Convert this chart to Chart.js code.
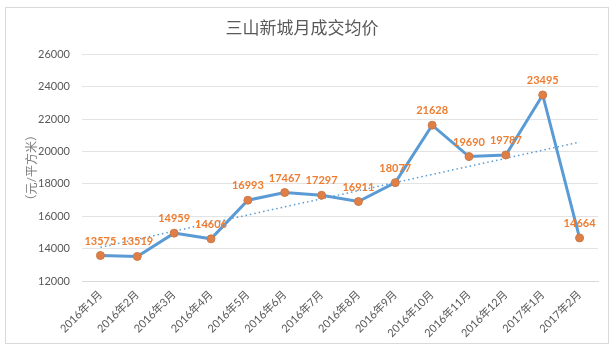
<!DOCTYPE html>
<html>
<head>
<meta charset="utf-8">
<script src="https://cdn.jsdelivr.net/npm/chart.js@4"></script>
<style>
  html, body { margin: 0; padding: 0; background: #fff; }
  #box {
    position: absolute; left: 5px; top: 7px;
    width: 604px; height: 337px;
    border: 1px solid #d9d9d9; box-sizing: border-box;
  }
  #chart { display: block; }
</style>
</head>
<body>
<div id="box"><canvas id="chart" width="602" height="335"></canvas></div>
<script>
const months = ["2016年1月","2016年2月","2016年3月","2016年4月","2016年5月","2016年6月","2016年7月",
  "2016年8月","2016年9月","2016年10月","2016年11月","2016年12月","2017年1月","2017年2月"];
const avgPrice = [13575, 13519, 14959, 14606, 16993, 17467, 17297, 16911, 18077, 21628, 19690, 19787, 23495, 14664];
const yTicks = [12000, 14000, 16000, 18000, 20000, 22000, 24000, 26000];
const yTitle = "（元/平方米）";

// linear trendline (least squares) over the monthly prices
function trendLine(vals) {
  const n = vals.length;
  const mx = (n - 1) / 2;
  const my = vals.reduce((a, b) => a + b, 0) / n;
  let sxy = 0, sxx = 0;
  vals.forEach((v, i) => { sxy += (i - mx) * (v - my); sxx += (i - mx) * (i - mx); });
  const k = sxy / sxx;
  return vals.map((_, i) => my + k * (i - mx));
}

const FONT = 'Lato, "Noto Sans CJK SC", sans-serif';

// value labels above each point + rotated unit label left of the y ticks
const extraText = {
  id: "extraText",
  afterDatasetsDraw(chart) {
    const ctx = chart.ctx;
    const meta = chart.getDatasetMeta(0);
    const area = chart.chartArea;
    ctx.save();
    ctx.font = "bold 11px " + FONT;
    ctx.fillStyle = "#ED7D31";
    ctx.textAlign = "center";
    ctx.textBaseline = "bottom";
    meta.data.forEach((pt, i) => {
      ctx.fillText(avgPrice[i], pt.x, pt.y - 9);
    });

    ctx.translate(area.left - 50, (area.top + area.bottom) / 2);
    ctx.rotate(-Math.PI / 2);
    ctx.font = "12px " + FONT;
    ctx.fillStyle = "#7f7f7f";
    ctx.textBaseline = "middle";
    ctx.fillText(yTitle, 0, 0);
    ctx.restore();
  }
};

new Chart(document.getElementById("chart"), {
  type: "line",
  data: {
    labels: months,
    datasets: [{
      label: "成交均价",
      data: avgPrice,
      borderColor: "#5B9BD5",
      borderWidth: 3,
      pointBackgroundColor: "#E07F45",
      pointBorderColor: "#C9794A",
      pointBorderWidth: 1,
      pointRadius: 4,
      tension: 0,
      order: 1
    }, {
      label: "趋势线",
      data: trendLine(avgPrice),
      borderColor: "#5B9BD5",
      borderWidth: 1.5,
      borderDash: [1.5, 3],
      pointRadius: 0,
      fill: false,
      order: 2
    }]
  },
  options: {
    responsive: false,
    animation: false,
    layout: { padding: { left: 0, right: 10, top: 0, bottom: 0 } },
    plugins: {
      legend: { display: false },
      tooltip: { enabled: false },
      title: {
        display: true,
        text: "三山新城月成交均价",
        color: "#595959",
        font: { family: FONT, size: 17, weight: "normal" },
        padding: { top: 10, bottom: 16 }
      }
    },
    scales: {
      x: {
        offset: true,
        grid: { display: false, drawTicks: true, tickLength: 4 },
        border: { color: "#d9d9d9" },
        ticks: {
          color: "#595959",
          font: { family: FONT, size: 11 },
          minRotation: 45,
          maxRotation: 45,
          padding: 3
        }
      },
      y: {
        min: 12000,
        max: 26000,
        afterBuildTicks(scale) { scale.ticks = yTicks.map(v => ({ value: v })); },
        afterFit(scale) { scale.width = 76; },
        grid: { color: "#e3e3e3", drawTicks: false },
        border: { display: false },
        ticks: {
          color: "#595959",
          font: { family: FONT, size: 11 },
          padding: 12,
          callback: v => String(v)
        }
      }
    }
  },
  plugins: [extraText]
});
</script>
</body>
</html>
